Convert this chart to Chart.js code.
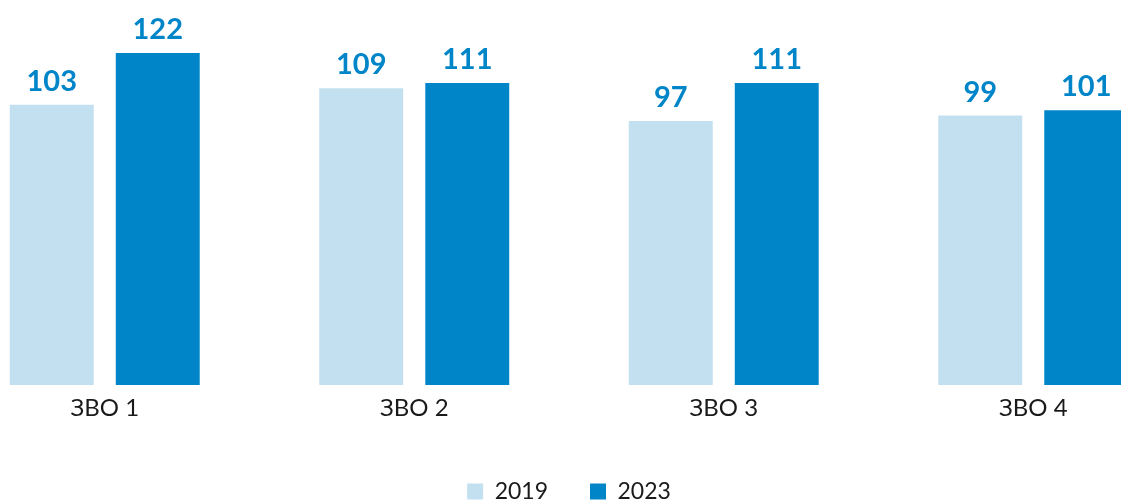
<!DOCTYPE html>
<html>
<head>
<meta charset="utf-8">
<script src="https://cdn.jsdelivr.net/npm/chart.js@4.4.1/dist/chart.umd.min.js"></script>
<style>
html,body{margin:0;padding:0;background:#fff;overflow:hidden;width:1121px;height:502px;}
#wrap{position:absolute;left:-50px;top:0;width:1238px;height:513px;}
</style>
</head>
<body>
<div id="wrap"><canvas id="c" width="1238" height="513"></canvas></div>
<script>
const categories = ['ЗВО 1', 'ЗВО 2', 'ЗВО 3', 'ЗВО 4'];
const seriesNames = ['2019', '2023'];
const values2019 = [103, 109, 97, 99];
const values2023 = [122, 111, 111, 101];

const LIGHT = '#c3e0f1';
const DARK = '#0085c8';
const FONT = 'Lato, "Open Sans", sans-serif';

const valueLabels = {
  id: 'valueLabels',
  afterDatasetsDraw(chart) {
    const ctx = chart.ctx;
    ctx.save();
    ctx.font = 'bold 29px ' + FONT;
    ctx.fillStyle = DARK;
    ctx.textAlign = 'center';
    ctx.textBaseline = 'alphabetic';
    chart.data.datasets.forEach((ds, i) => {
      const meta = chart.getDatasetMeta(i);
      meta.data.forEach((bar, j) => {
        ctx.fillText(String(ds.data[j]), bar.x, bar.y - 14);
      });
    });
    ctx.restore();
  }
};

new Chart(document.getElementById('c'), {
  type: 'bar',
  data: {
    labels: categories,
    datasets: [
      {label: seriesNames[0], data: values2019, backgroundColor: LIGHT, categoryPercentage: 0.685, barPercentage: 0.792},
      {label: seriesNames[1], data: values2023, backgroundColor: DARK, categoryPercentage: 0.685, barPercentage: 0.792}
    ]
  },
  options: {
    responsive: false,
    animation: false,
    devicePixelRatio: 1,
    layout: {padding: {top: 4, left: 0, right: 0, bottom: 0}},
    scales: {
      y: {display: false, min: 0, max: 140},
      x: {
        grid: {display: false, drawTicks: false},
        border: {display: false},
        ticks: {color: '#1a1a1a', font: {family: FONT, size: 24}, padding: 9},
        afterFit(scale) { scale.height = 53; }
      }
    },
    plugins: {
      legend: {
        position: 'bottom',
        labels: {
          boxWidth: 16, boxHeight: 16, padding: 42,
          color: '#1a1a1a', font: {family: FONT, size: 23}
        }
      },
      tooltip: {enabled: false}
    }
  },
  plugins: [valueLabels]
});
</script>
</body>
</html>
